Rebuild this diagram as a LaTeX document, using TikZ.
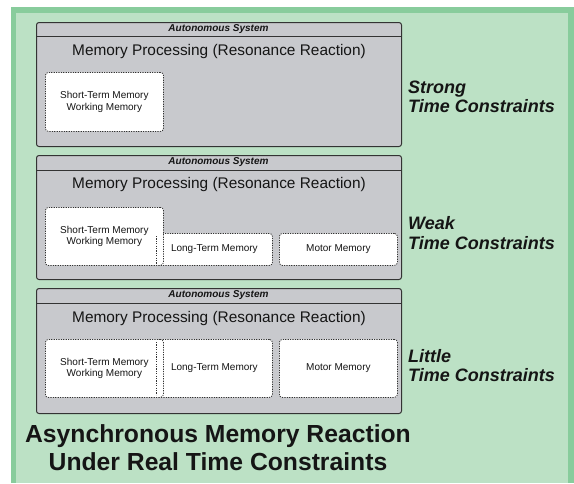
\documentclass[tikz,border=0pt]{standalone}
\usepackage{fontspec}
\setmainfont{Liberation Sans}
\definecolor{gdark}{HTML}{88CC9C}
\definecolor{glight}{HTML}{BCE1C5}
\definecolor{pgray}{HTML}{C8C9CD}
\definecolor{ink}{HTML}{151515}
\definecolor{edge}{HTML}{333333}
\tikzset{
  panel/.style={draw=edge, line width=1pt, fill=pgray, rounded corners=2.5pt, inner sep=0pt, anchor=north west, minimum width=365pt},
  membox/.style={draw=edge, line width=0.8pt, dash pattern=on 1.2pt off 1.2pt, fill=white, rounded corners=3pt, inner sep=0pt, anchor=north west, align=center, font=\fontsize{10}{11.5}\selectfont, text=ink},
  systitle/.style={inner sep=0pt, font=\fontsize{10}{12}\selectfont\bfseries\itshape, text=ink},
  proctitle/.style={inner sep=0pt, font=\fontsize{15.4}{18}\selectfont, text=ink},
  sidelabel/.style={inner sep=0pt, anchor=base west, font=\fontsize{18}{20}\selectfont\bfseries\itshape, text=ink},
  bottomlabel/.style={inner sep=0pt, anchor=base, font=\fontsize{24.7}{28}\selectfont\bfseries, text=ink}
}
\begin{document}
\begin{tikzpicture}[x=1pt,y=-1pt]
\useasboundingbox (0,0) rectangle (574,483);
\fill[white] (0,0) rectangle (574,483);
\fill[gdark] (11,7) rectangle (574,483);
\fill[glight] (16,13) rectangle (568,483);

% panel 1
\node[panel, minimum height=124pt] (p1) at (36,22) {};
\draw[edge, line width=0.9pt] (36,36) -- (401,36);
\node[systitle] (a1) at (218.5,29.5) {Autonomous System};
\node[proctitle] (m1) at (219,52) {Memory Processing (Resonance Reaction)};
\node[membox, minimum width=118pt, minimum height=59pt] (s1) at (45,72) {Short-Term Memory\\Working Memory};

% panel 2
\node[panel, minimum height=124pt] (p2) at (36,155) {};
\draw[edge, line width=0.9pt] (36,170) -- (401,170);
\node[systitle] (a2) at (218.5,162.5) {Autonomous System};
\node[proctitle] (m2) at (219,185) {Memory Processing (Resonance Reaction)};
\node[membox, minimum width=116pt, minimum height=32pt] (l2) at (156,233) {Long-Term Memory};
\node[membox, minimum width=118pt, minimum height=58pt] (s2) at (45,207) {Short-Term Memory\\Working Memory};
\draw[edge, line width=0.8pt, dash pattern=on 1.2pt off 1.2pt] (l2.north west) ++(0,3) -- (l2.south west);
\node[membox, minimum width=118pt, minimum height=32pt] (k2) at (279,233) {Motor Memory};

% panel 3
\node[panel, minimum height=125pt] (p3) at (36,288) {};
\draw[edge, line width=0.9pt] (36,303) -- (401,303);
\node[systitle] (a3) at (218.5,295.5) {Autonomous System};
\node[proctitle] (m3) at (219,319) {Memory Processing (Resonance Reaction)};
\node[membox, minimum width=116pt, minimum height=58pt] (l3) at (156,339) {Long-Term Memory};
\node[membox, minimum width=118pt, minimum height=58pt] (s3) at (45,339) {Short-Term Memory\\Working Memory};
\draw[edge, line width=0.8pt, dash pattern=on 1.2pt off 1.2pt] (l3.north west) ++(0,3) -- ([yshift=3pt]l3.south west);
\node[membox, minimum width=118pt, minimum height=58pt] (k3) at (279,339) {Motor Memory};

% side labels
\node[sidelabel] (t1a) at (408,93) {Strong};
\node[sidelabel] (t1b) at (408,112) {Time Constraints};
\node[sidelabel] (t2a) at (408,229) {Weak};
\node[sidelabel] (t2b) at (408,249) {Time Constraints};
\node[sidelabel] (t3a) at (408,362) {Little};
\node[sidelabel] (t3b) at (408,381) {Time Constraints};

% bottom title
\node[bottomlabel] (b1) at (218,442.5) {Asynchronous Memory Reaction};
\node[bottomlabel] (b2) at (218,470) {Under Real Time Constraints};
\end{tikzpicture}
\end{document}
